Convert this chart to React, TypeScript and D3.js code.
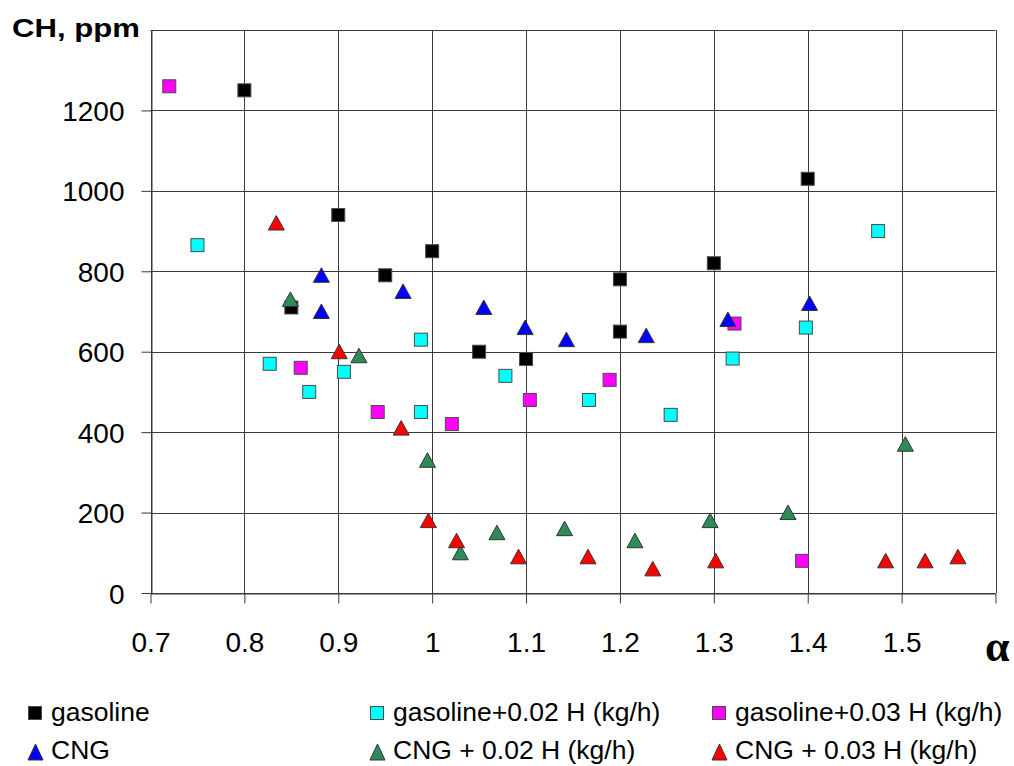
import React, { useEffect, useRef } from "react";
import { axisBottom, axisLeft, scaleLinear, select } from "d3";

type Pt = [number, number];

const gasoline: Pt[] = [
  [0.8, 1250], [0.85, 710], [0.9, 940], [0.95, 790], [1.0, 850],
  [1.05, 600], [1.1, 582], [1.2, 780], [1.2, 650], [1.3, 820], [1.4, 1030],
];
const gasoline002: Pt[] = [
  [0.75, 865], [0.827, 570], [0.869, 500], [0.906, 550], [0.988, 630],
  [0.988, 450], [1.078, 540], [1.167, 480], [1.254, 443], [1.32, 583],
  [1.398, 660], [1.475, 900],
];
const gasoline003: Pt[] = [
  [0.72, 1260], [0.86, 560], [0.942, 450], [1.021, 420], [1.104, 480],
  [1.189, 530], [1.322, 670], [1.394, 80],
];
const cng: Pt[] = [
  [0.882, 790], [0.882, 700], [0.969, 750], [1.055, 710], [1.099, 660],
  [1.143, 630], [1.228, 640], [1.315, 680], [1.402, 720],
];
const cng002: Pt[] = [
  [0.849, 730], [0.922, 590], [0.995, 330], [1.03, 100], [1.069, 150],
  [1.141, 160], [1.216, 130], [1.296, 180], [1.379, 200], [1.504, 370],
];
const cng003: Pt[] = [
  [0.834, 920], [0.901, 600], [0.967, 410], [0.996, 180], [1.026, 130],
  [1.092, 90], [1.166, 90], [1.235, 60], [1.302, 80], [1.483, 80],
  [1.525, 80], [1.56, 90],
];

const xTicks = [0.7, 0.8, 0.9, 1, 1.1, 1.2, 1.3, 1.4, 1.5, 1.6];
const yTicks = [0, 200, 400, 600, 800, 1000, 1200, 1400];

const series = [
  { name: "gasoline", data: gasoline, shape: "square", color: "#000000", col: 0, row: 0 },
  { name: "gasoline+0.02 H (kg/h)", data: gasoline002, shape: "square", color: "#00ffff", col: 1, row: 0 },
  { name: "gasoline+0.03 H (kg/h)", data: gasoline003, shape: "square", color: "#ff00ff", col: 2, row: 0 },
  { name: "CNG", data: cng, shape: "triangle", color: "#0000ff", col: 0, row: 1 },
  { name: "CNG + 0.02 H (kg/h)", data: cng002, shape: "triangle", color: "#2e8b57", col: 1, row: 1 },
  { name: "CNG + 0.03 H (kg/h)", data: cng003, shape: "triangle", color: "#ff0000", col: 2, row: 1 },
];

export default function App() {
  const svgRef = useRef<SVGSVGElement>(null);
  const w = 1014;
  const h = 766;
  const margin = { top: 30, right: 20, bottom: 173, left: 150 };

  useEffect(() => {
    const svg = select(svgRef.current);
    svg.selectAll("*").remove();

    const x = scaleLinear().domain([0.7, 1.6]).range([margin.left + 0.5, w - margin.right + 1.5]);
    const y = scaleLinear().domain([0, 1400]).range([h - margin.bottom, margin.top]);
    const font = "'Liberation Sans', Arial, sans-serif";

    // grid
    const grid = svg.append("g").attr("stroke", "#3a3a3a").attr("stroke-width", 1);
    grid.selectAll("line.v").data(xTicks).enter().append("line")
      .attr("x1", (d) => Math.round(x(d)) + 0.5).attr("x2", (d) => Math.round(x(d)) + 0.5)
      .attr("y1", y(1400)).attr("y2", y(0));
    grid.selectAll("line.h").data(yTicks).enter().append("line")
      .attr("y1", (d) => Math.round(y(d)) + 0.5).attr("y2", (d) => Math.round(y(d)) + 0.5)
      .attr("x1", x(0.7)).attr("x2", x(1.6));

    // axes
    const xAxis = svg.append("g")
      .attr("transform", `translate(0,${Math.round(y(0)) + 0.5})`)
      .call(axisBottom(x).tickValues(xTicks).tickSize(10).tickSizeOuter(0)
        .tickFormat((d) => (+d >= 1.6 ? "" : String(+d))));
    xAxis.select(".domain").attr("stroke", "#3a3a3a");
    xAxis.selectAll(".tick line").attr("stroke", "#3a3a3a");
    xAxis.selectAll("text").attr("font-family", font).attr("font-size", 28)
      .attr("fill", "#000").attr("dy", 0).attr("y", 58);

    const yAxis = svg.append("g")
      .attr("transform", `translate(${Math.round(x(0.7)) + 0.5},0)`)
      .call(axisLeft(y).tickValues(yTicks.slice(0, 7)).tickSize(10).tickSizeOuter(0)
        .tickFormat((d) => String(+d)));
    yAxis.select(".domain").attr("stroke", "#3a3a3a");
    yAxis.selectAll(".tick line").attr("stroke", "#3a3a3a");
    yAxis.selectAll("text").attr("font-family", font).attr("font-size", 28)
      .attr("fill", "#000").attr("x", -27).attr("dy", "0.36em");

    // markers
    series.forEach((s) => {
      const g = svg.append("g");
      if (s.shape === "square") {
        g.selectAll("rect").data(s.data).enter().append("rect")
          .attr("x", (d) => x(d[0]) - 6.5).attr("y", (d) => y(d[1]) - 6.5)
          .attr("width", 13).attr("height", 13)
          .attr("fill", s.color).attr("stroke", "#4a4a4a").attr("stroke-width", 1);
      } else {
        g.selectAll("path").data(s.data).enter().append("path")
          .attr("d", (d) => {
            const cx = x(d[0]);
            const cy = y(d[1]);
            return `M${cx},${cy - 7.5}L${cx + 8},${cy + 7}L${cx - 8},${cy + 7}Z`;
          })
          .attr("fill", s.color).attr("stroke", "#333").attr("stroke-width", 1);
      }
    });

    // titles
    svg.append("text").attr("x", 12).attr("y", 37).text("CH, ppm")
      .attr("font-family", font).attr("font-weight", "bold").attr("font-size", 26)
      .attr("textLength", 128).attr("lengthAdjust", "spacingAndGlyphs");
    svg.append("text").attr("x", 985).attr("y", 661).text("α")
      .attr("font-family", "'Liberation Serif', 'DejaVu Serif', serif")
      .attr("font-weight", "bold").attr("font-size", 44);

    // legend
    const colX = [28, 370, 712];
    const rowY = [721, 759];
    series.forEach((s) => {
      const lx = colX[s.col];
      const ly = rowY[s.row];
      if (s.shape === "square") {
        svg.append("rect").attr("x", lx + 0.5).attr("y", ly - 14.5).attr("width", 13).attr("height", 13)
          .attr("fill", s.color).attr("stroke", "#4a4a4a");
      } else {
        svg.append("path").attr("d", `M${lx + 7.5},${ly - 15}L${lx + 15},${ly + 1}L${lx},${ly + 1}Z`)
          .attr("fill", s.color).attr("stroke", "#333");
      }
      svg.append("text").attr("x", lx + 23).attr("y", ly).text(s.name)
        .attr("font-family", font).attr("font-size", 26.5).attr("fill", "#000");
    });
  }, []);

  return (
    <svg
      ref={svgRef}
      width={w}
      height={h}
      style={{ position: "absolute", left: 0, top: 0, background: "#fff" }}
    />
  );
}
